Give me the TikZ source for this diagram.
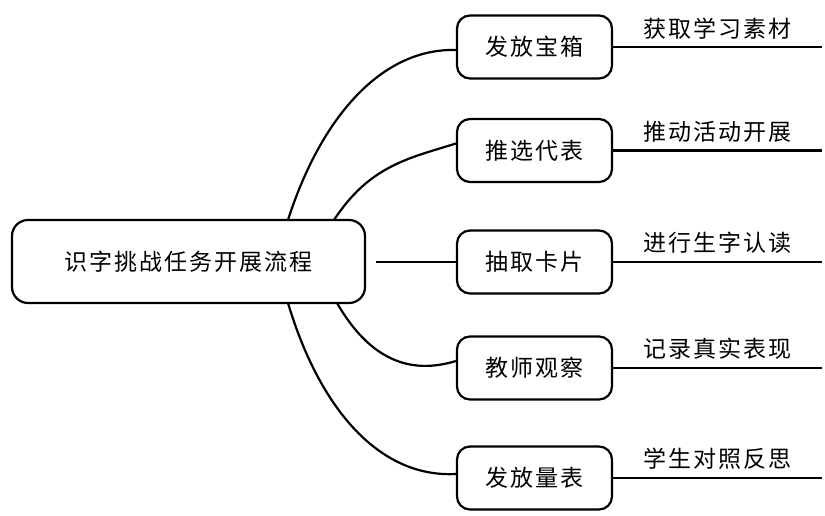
\documentclass[tikz,border=0pt]{standalone}
\usepackage{fontspec}
\newfontfamily\cjk[LetterSpace=9]{Noto Sans CJK SC}
\begin{document}
\begin{tikzpicture}[x=1pt,y=-1pt,
  line width=2.2pt,
  every node/.style={font=\cjk\fontsize{23}{25}\selectfont, inner sep=0pt},
  mainbox/.style={draw, rounded corners=16pt, minimum width=353pt, minimum height=83pt},
  subbox/.style={draw, rounded corners=13pt, minimum width=155pt, minimum height=63pt},
  lbl/.style={anchor=south, inner sep=0pt, yshift=7pt}]
\useasboundingbox (0,0) rectangle (825,516);
\node[mainbox] (c) at (188.5,261.5) {识字挑战任务开展流程};
\node[subbox] (b1) at (534.5,47) {发放宝箱};
\node[subbox] (b2) at (534.5,150.5) {推选代表};
\node[subbox] (b3) at (534.5,262) {抽取卡片};
\node[subbox] (b4) at (534.5,368) {教师观察};
\node[subbox] (b5) at (534.5,478) {发放量表};
\coordinate (e1) at (822,47);
\coordinate (e2) at (822,150.5);
\coordinate (e3) at (822,262);
\coordinate (e4) at (822,368);
\coordinate (e5) at (822,478);
\draw (b1.east) -- node[lbl]{获取学习素材} (e1);
\draw (b2.east) -- node[lbl]{推动活动开展} (e2);
\draw (b3.east) -- node[lbl]{进行生字认读} (e3);
\draw (b4.east) -- node[lbl]{记录真实表现} (e4);
\draw (b5.east) -- node[lbl]{学生对照反思} (e5);
\coordinate (o1) at (288,220);
\coordinate (i1) at (334,220);
\coordinate (o2) at (288,303);
\coordinate (i2) at (337,303);
\coordinate (m) at (376,262);
\draw (o1) .. controls (320,120) and (380,48) .. ([yshift=-3pt]b1.west);
\draw (i1) .. controls (370,165) and (410,158) .. ([yshift=7pt]b2.west);
\draw (m) -- (b3.west);
\draw (i2) .. controls (370,360) and (410,375) .. ([yshift=7pt]b4.west);
\draw (o2) .. controls (320,410) and (380,478) .. ([yshift=4pt]b5.west);
\end{tikzpicture}
\end{document}
